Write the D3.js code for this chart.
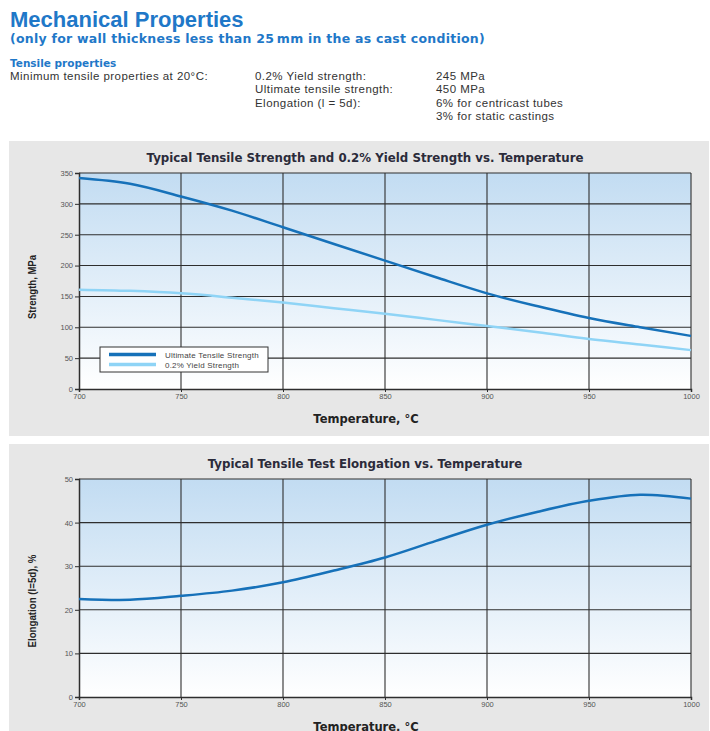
<!DOCTYPE html>
<html lang="en">
  <head>
    <meta charset="utf-8" />
    <title>Mechanical Properties</title>
    <script src="https://d3js.org/d3.v7.min.js"></script>
    <style>
      body { margin: 0; background: #fff; }
      text { font-family: "Liberation Sans", Arial, sans-serif; }
      .wide { font-family: "DejaVu Sans", sans-serif; font-weight: bold; }
    </style>
  </head>
  <body>
    <svg width="710" height="731"></svg>
    <script type="text/javascript">
      // temperatures (°C) at which values were read
      const temps = [700, 725, 750, 775, 800, 825, 850, 875, 900, 925, 950, 975, 1000];
      const ultimate = [342, 332.5, 312, 289, 262, 235, 208, 181, 155, 134, 115, 100, 86];
      const yieldStr = [161, 159, 155, 148, 140, 131, 122, 112, 102, 92, 81, 72, 63];
      const elongation = [22.5, 22.3, 23.2, 24.4, 26.3, 29, 32, 35.8, 39.5, 42.5, 45, 46.4, 45.5];
      const xTicks = [700, 750, 800, 850, 900, 950, 1000];
      const strengthTicks = [0, 50, 100, 150, 200, 250, 300, 350];
      const elongTicks = [0, 10, 20, 30, 40, 50];

      const headerLines = [
        ["Minimum tensile properties at 20°C:", "0.2% Yield strength:", "245 MPa"],
        ["", "Ultimate tensile strength:", "450 MPa"],
        ["", "Elongation (l = 5d):", "6% for centricast tubes"],
        ["", "", "3% for static castings"],
      ];

      const svg = d3.select("svg");
      const blue = "#1f78c8";

      // header text
      svg.append("text").attr("x", 10).attr("y", 27)
        .attr("font-size", "22px").attr("font-weight", "bold")
        .attr("fill", blue).text("Mechanical Properties");
      svg.append("text").attr("class", "wide").attr("x", 10).attr("y", 43)
        .attr("font-size", "12.5px").attr("letter-spacing", "0.25px")
        .attr("fill", blue)
        .text("(only for wall thickness less than 25\u2009mm in the as cast condition)");
      svg.append("text").attr("class", "wide").attr("x", 10).attr("y", 67)
        .attr("font-size", "10.5px")
        .attr("fill", blue).text("Tensile properties");
      const cols = [10, 255, 436];
      headerLines.forEach((row, i) => {
        row.forEach((t, j) => {
          svg.append("text").attr("x", cols[j]).attr("y", 80 + i * 13.3)
            .attr("font-size", "11.5px").attr("letter-spacing", "0.45px")
            .attr("fill", "#333").text(t);
        });
      });

      // gradient for plot backgrounds
      const defs = svg.append("defs");
      const grad = defs.append("linearGradient").attr("id", "bg")
        .attr("x1", 0).attr("y1", 0).attr("x2", 0).attr("y2", 1);
      grad.append("stop").attr("offset", "0%").attr("stop-color", "#c2dcf2");
      grad.append("stop").attr("offset", "100%").attr("stop-color", "#ffffff");

      function drawChart(opt) {
        const g = svg.append("g");
        g.append("rect").attr("x", 9).attr("y", opt.panelTop)
          .attr("width", 700).attr("height", opt.panelH).attr("fill", "#e7e7e7");

        const x = d3.scaleLinear().domain([700, 1000]).range([79, 691]);
        const y = d3.scaleLinear().domain(opt.domain).range([opt.bottom, opt.top]);

        g.append("rect").attr("x", x(700)).attr("y", opt.top)
          .attr("width", x(1000) - x(700)).attr("height", opt.bottom - opt.top)
          .attr("fill", "url(#bg)");

        // grid
        g.append("g").selectAll("line").data(opt.yTicks.slice(1)).join("line")
          .attr("x1", x(700)).attr("x2", x(1000))
          .attr("y1", (d) => y(d)).attr("y2", (d) => y(d))
          .attr("stroke", "#2e2e2e").attr("stroke-width", 1.1);
        g.append("g").selectAll("line").data(xTicks.slice(1)).join("line")
          .attr("x1", (d) => x(d)).attr("x2", (d) => x(d))
          .attr("y1", opt.top).attr("y2", opt.bottom)
          .attr("stroke", "#2e2e2e").attr("stroke-width", 1.1);

        // axes
        const xAxis = g.append("g").attr("transform", `translate(0,${opt.bottom})`)
          .call(d3.axisBottom(x).tickValues(xTicks).tickFormat(d3.format("d"))
            .tickSize(3).tickPadding(2));
        const yAxis = g.append("g").attr("transform", `translate(${x(700)},0)`)
          .call(d3.axisLeft(y).tickValues(opt.yTicks).tickSize(4).tickPadding(2));
        [xAxis, yAxis].forEach((a) => {
          a.select(".domain").attr("stroke", "#2e2e2e").attr("stroke-width", 1.5);
          a.selectAll(".tick line").attr("stroke", "#2e2e2e");
          a.selectAll("text").attr("font-size", "7.5px").attr("fill", "#555")
            .attr("font-family", "Liberation Sans, Arial, sans-serif");
        });

        // lines
        const line = d3.line().curve(opt.curve)
          .x((d, i) => x(temps[i])).y((d) => y(d));
        opt.series.forEach((s) => {
          g.append("path").datum(s.values).attr("d", line)
            .attr("fill", "none").attr("stroke", s.color).attr("stroke-width", 2.5);
        });

        // titles
        g.append("text").attr("class", "wide").attr("x", 365).attr("y", opt.titleY)
          .attr("text-anchor", "middle").attr("font-size", "11.8px")
          .attr("fill", "#2b2b3a").text(opt.title);
        g.append("text").attr("class", "wide").attr("x", 366).attr("y", opt.bottom + 34)
          .attr("text-anchor", "middle").attr("font-size", "11.5px")
          .attr("fill", "#222").text("Temperature, °C");
        g.append("text")
          .attr("transform", `translate(36,${opt.labelY}) rotate(-90)`)
          .attr("text-anchor", "middle").attr("font-size", "11.5px")
          .attr("textLength", opt.labelLen).attr("lengthAdjust", "spacingAndGlyphs")
          .attr("font-weight", "bold").attr("fill", "#222").text(opt.yLabel);
        return g;
      }

      const strengthChart = drawChart({
        panelTop: 141, panelH: 295, top: 173, bottom: 389, titleY: 162,
        labelY: 287, labelLen: 64, curve: d3.curveMonotoneX,
        domain: [0, 350], yTicks: strengthTicks,
        title: "Typical Tensile Strength and 0.2% Yield Strength vs. Temperature",
        yLabel: "Strength, MPa",
        series: [
          { name: "Ultimate Tensile Strength", values: ultimate, color: "#1671b9" },
          { name: "0.2% Yield Strength", values: yieldStr, color: "#8fd4f6" },
        ],
      });

      // legend
      const legend = strengthChart.append("g");
      legend.append("rect").attr("x", 100).attr("y", 347).attr("width", 168).attr("height", 25)
        .attr("fill", "#fff").attr("stroke", "#333").attr("stroke-width", 1);
      [["Ultimate Tensile Strength", "#1671b9"], ["0.2% Yield Strength", "#8fd4f6"]].forEach((d, i) => {
        legend.append("line").attr("x1", 109).attr("x2", 156)
          .attr("y1", 354.5 + i * 10).attr("y2", 354.5 + i * 10)
          .attr("stroke", d[1]).attr("stroke-width", 3.5);
        legend.append("text").attr("x", 165).attr("y", 357.5 + i * 10)
          .attr("font-size", "8px").attr("letter-spacing", "0.2px")
          .attr("fill", "#444").text(d[0]);
      });

      drawChart({
        panelTop: 444, panelH: 287, top: 479, bottom: 697, titleY: 468,
        labelY: 601, labelLen: 93, curve: d3.curveCatmullRom.alpha(0.5),
        domain: [0, 50], yTicks: elongTicks,
        title: "Typical Tensile Test Elongation vs. Temperature",
        yLabel: "Elongation (l=5d), %",
        series: [{ name: "Elongation", values: elongation, color: "#1671b9" }],
      });
    </script>
  </body>
</html>
